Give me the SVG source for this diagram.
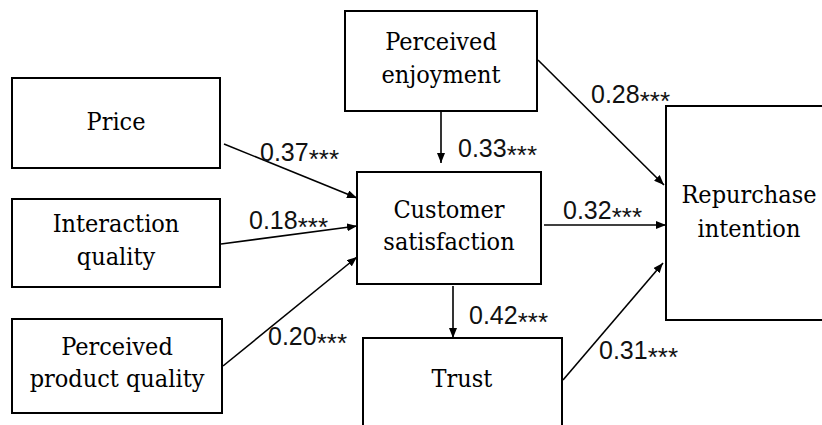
<svg xmlns="http://www.w3.org/2000/svg" width="822" height="425" viewBox="0 0 822 425">
  <style>
    .box { fill: #fff; stroke: #000; stroke-width: 2; }
    .lbl { font-family: "DejaVu Serif Condensed", "DejaVu Serif", "Liberation Serif", serif; font-stretch: condensed; font-size: 25px; fill: #000; text-anchor: middle; }
    .coef { font-family: "Liberation Sans", Arial, sans-serif; font-size: 25px; fill: #111; }
    .star { font-size: 26px; }
    .edge { stroke: #000; stroke-width: 1.6; fill: none; marker-end: url(#arrow); }
  </style>
  <defs>
    <marker id="arrow" viewBox="0 0 10 8" refX="10" refY="4" markerWidth="10" markerHeight="8" markerUnits="userSpaceOnUse" orient="auto">
      <path d="M0,0 L10,4 L0,8 z" fill="#000"/>
    </marker>
  </defs>
  <rect width="822" height="425" fill="#fff"/>

  <g id="price">
    <rect class="box" x="12" y="78" width="208" height="90"/>
    <text class="lbl" x="116" y="130">Price</text>
  </g>
  <g id="interaction-quality">
    <rect class="box" x="12" y="199" width="208" height="88"/>
    <text class="lbl" x="116" y="232">Interaction</text>
    <text class="lbl" x="116" y="265">quality</text>
  </g>
  <g id="perceived-product-quality">
    <rect class="box" x="12" y="319" width="210" height="94"/>
    <text class="lbl" x="117" y="355">Perceived</text>
    <text class="lbl" x="117" y="387">product quality</text>
  </g>
  <g id="perceived-enjoyment">
    <rect class="box" x="345" y="11" width="192" height="100"/>
    <text class="lbl" x="441" y="50">Perceived</text>
    <text class="lbl" x="441" y="83">enjoyment</text>
  </g>
  <g id="customer-satisfaction">
    <rect class="box" x="357" y="172" width="184" height="112"/>
    <text class="lbl" x="449" y="218">Customer</text>
    <text class="lbl" x="449" y="250">satisfaction</text>
  </g>
  <g id="trust">
    <rect class="box" x="363" y="338" width="199" height="100"/>
    <text class="lbl" x="462" y="387">Trust</text>
  </g>
  <g id="repurchase-intention">
    <rect class="box" x="666" y="106" width="170" height="214"/>
    <text class="lbl" x="749" y="203">Repurchase</text>
    <text class="lbl" x="749" y="237">intention</text>
  </g>

  <g id="connectors">
    <line class="edge" x1="224" y1="144" x2="357" y2="198"/>
    <line class="edge" x1="221" y1="244" x2="357" y2="226"/>
    <line class="edge" x1="223" y1="366" x2="357" y2="257"/>
    <line class="edge" x1="441" y1="111" x2="441" y2="163"/>
    <line class="edge" x1="538" y1="60" x2="664" y2="185"/>
    <line class="edge" x1="544" y1="225" x2="666" y2="225"/>
    <line class="edge" x1="453" y1="286" x2="453" y2="338"/>
    <line class="edge" x1="563" y1="380" x2="663" y2="263"/>
  </g>

  <g id="coefficients">
    <text class="coef" x="260" y="161">0.37<tspan class="star" dy="7">***</tspan></text>
    <text class="coef" x="458" y="157">0.33<tspan class="star" dy="7">***</tspan></text>
    <text class="coef" x="591" y="103">0.28<tspan class="star" dy="7">***</tspan></text>
    <text class="coef" x="249" y="229">0.18<tspan class="star" dy="7">***</tspan></text>
    <text class="coef" x="563" y="219">0.32<tspan class="star" dy="7">***</tspan></text>
    <text class="coef" x="268" y="345">0.20<tspan class="star" dy="7">***</tspan></text>
    <text class="coef" x="469" y="324">0.42<tspan class="star" dy="7">***</tspan></text>
    <text class="coef" x="599" y="359">0.31<tspan class="star" dy="7">***</tspan></text>
  </g>
</svg>
